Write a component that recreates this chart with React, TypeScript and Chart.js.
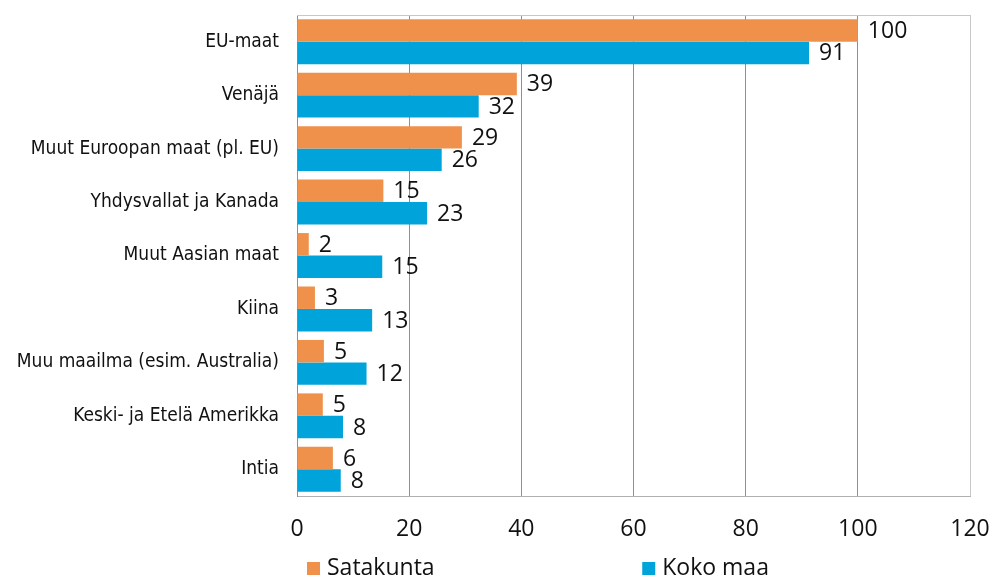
import React, { useEffect, useRef } from "react";
import { Chart, registerables } from "chart.js";

Chart.register(...registerables);

const categories = [
  "EU-maat",
  "Venäjä",
  "Muut Euroopan maat (pl. EU)",
  "Yhdysvallat ja Kanada",
  "Muut Aasian maat",
  "Kiina",
  "Muu maailma (esim. Australia)",
  "Keski- ja Etelä Amerikka",
  "Intia",
];
const satakunta = [100, 39.2, 29.4, 15.4, 2.1, 3.2, 4.8, 4.6, 6.4];
const kokoMaa = [91.3, 32.4, 25.8, 23.2, 15.2, 13.4, 12.4, 8.2, 7.8];
const seriesNames = ["Satakunta", "Koko maa"];
const seriesColors = ["#F0914B", "#00A3DA"];
const xTicks = [0, 20, 40, 60, 80, 100, 120];

const NUM_FONT = "'Open Sans', 'Liberation Sans', sans-serif";
const CAT_FONT = "'DejaVu Sans Condensed', 'DejaVu Sans', sans-serif";

const valueLabels = {
  id: "valueLabels",
  afterDatasetsDraw(chart: any) {
    const ctx = chart.ctx;
    ctx.save();
    ctx.font = `23px ${NUM_FONT}`;
    ctx.fillStyle = "#111";
    ctx.textAlign = "left";
    ctx.textBaseline = "middle";
    chart.data.datasets.forEach((ds: any, i: number) => {
      const meta = chart.getDatasetMeta(i);
      meta.data.forEach((el: any, j: number) => {
        ctx.fillText(String(Math.round(ds.data[j])), el.x + 10, el.y + 1);
      });
    });
    ctx.restore();
  },
};

const frameAndLegend = {
  id: "frameAndLegend",
  beforeDatasetsDraw(chart: any) {
    const { ctx, chartArea } = chart;
    ctx.save();
    ctx.strokeStyle = "#c8c8c8";
    ctx.lineWidth = 1;
    ctx.beginPath();
    ctx.moveTo(chartArea.left, chartArea.top + 0.5);
    ctx.lineTo(chartArea.right, chartArea.top + 0.5);
    ctx.stroke();
    ctx.restore();
  },
  afterDraw(chart: any) {
    const { ctx, chartArea } = chart;
    const w = chartArea.right - chartArea.left;
    const xs = [chartArea.left + 10, chartArea.left + 0.513 * w];
    ctx.save();
    ctx.font = `23px ${NUM_FONT}`;
    ctx.textBaseline = "middle";
    ctx.textAlign = "left";
    seriesNames.forEach((name, i) => {
      ctx.fillStyle = seriesColors[i];
      ctx.fillRect(xs[i], 562, 13, 13);
      ctx.fillStyle = "#111";
      ctx.fillText(name, xs[i] + 20, 568);
    });
    ctx.restore();
  },
};

export default function App() {
  const ref = useRef<HTMLCanvasElement | null>(null);
  useEffect(() => {
    document.body.style.margin = "0";
    if (!ref.current) return;
    const chart = new Chart(ref.current, {
      type: "bar",
      data: {
        labels: categories,
        datasets: [
          {
            label: seriesNames[0],
            data: satakunta,
            backgroundColor: seriesColors[0],
            categoryPercentage: 0.84,
            barPercentage: 1,
          },
          {
            label: seriesNames[1],
            data: kokoMaa,
            backgroundColor: seriesColors[1],
            categoryPercentage: 0.84,
            barPercentage: 1,
          },
        ],
      },
      options: {
        indexAxis: "y",
        animation: false,
        responsive: true,
        maintainAspectRatio: false,
        layout: { padding: { top: 15, right: 22, left: 0, bottom: 43 } },
        plugins: {
          legend: { display: false },
          tooltip: { enabled: false },
        },
        scales: {
          x: {
            min: 0,
            max: 120,
            afterBuildTicks: (scale: any) => {
              scale.ticks = xTicks.map((v) => ({ value: v }));
            },
            afterFit: (scale: any) => {
              scale.height = 40;
              scale.paddingLeft = 0;
              scale.paddingRight = 0;
            },
            grid: {
              drawTicks: false,
              color: (c: any) => (c.tick && c.tick.value === 120 ? "#c8c8c8" : "#8f8f8f"),
            },
            border: { display: true, color: "#b0b0b0" },
            ticks: {
              padding: 20,
              color: "#111",
              font: { family: NUM_FONT, size: 23 },
            },
          },
          y: {
            afterFit: (scale: any) => {
              scale.width = 297;
              scale.paddingTop = 0;
              scale.paddingBottom = 0;
            },
            grid: { display: false, drawTicks: false },
            border: { display: true, color: "#8f8f8f" },
            ticks: {
              padding: 18,
              color: "#111",
              font: { family: CAT_FONT, size: 19 },
            },
          },
        },
      },
      plugins: [valueLabels, frameAndLegend],
    });
    return () => chart.destroy();
  }, []);
  return (
    <div style={{ width: 992, height: 579, position: "relative" }}>
      <canvas ref={ref} />
    </div>
  );
}
